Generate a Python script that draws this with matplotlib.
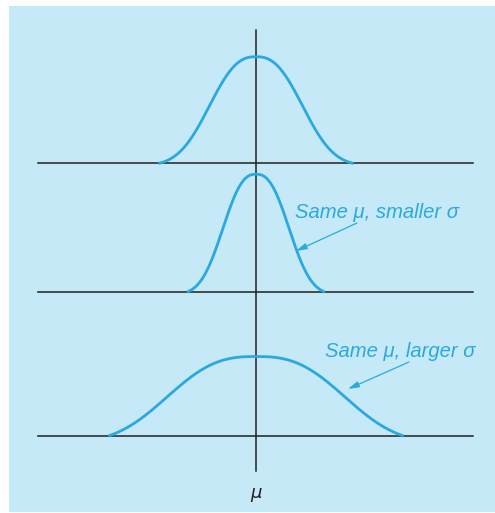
import numpy as np
import matplotlib
matplotlib.use("Agg")
import matplotlib.pyplot as plt
from matplotlib.patches import Rectangle

# ---- data (schematic bell curves; units = top curve scale) ----
curve_names = ["reference", "smaller sigma", "larger sigma"]
mu = [0.0, 0.0, 0.0]
sigma = [1.173, 0.835, 2.17]        # spread of each bell
half_width = [2.0, 1.42, 3.03]      # curve drawn over mu +/- half_width
peak_height = [2.19, 2.42, 1.63]    # drawn height of each curve
baseline = [5.59, 2.95, 0.0]        # vertical offset of each curve's axis
shape_beta = [2.5, 2.5, 2.7]        # flatness of the drawn bells
labels = ["", "Same \u03bc, smaller \u03c3", "Same \u03bc, larger \u03c3"]
mu_label = "\u03bc"

BG = "#C6E9F8"
CURVE = "#29A9E0"
DARK = "#231F20"

W, H = 495, 513
fig = plt.figure(figsize=(W / 100, H / 100), dpi=100)
fig.patch.set_facecolor("white")
ax = fig.add_axes([0, 0, 1, 1])
scale = 48.75  # pixels per unit
cx, base_px = 256, 436
ax.set_xlim(-cx / scale, (W - cx) / scale)
ax.set_ylim(-(H - base_px) / scale, base_px / scale)
ax.axis("off")

def py(p):
    return (base_px - p) / scale

def px(p):
    return (p - cx) / scale

# background panel
ax.add_patch(Rectangle((px(9), py(512)), (W - 9) / scale, (512 - 6) / scale,
                       facecolor=BG, edgecolor="none", zorder=0))

xl, xr = px(38), px(473)
for i in range(3):
    a, D, b = sigma[i], half_width[i], shape_beta[i]
    x = np.linspace(mu[i] - D, mu[i] + D, 500)
    g = np.exp(-np.abs((x - mu[i]) / a) ** b)
    g0 = np.exp(-(D / a) ** b)
    y = baseline[i] + peak_height[i] * (g - g0) / (1 - g0)
    ax.plot([xl, xr], [baseline[i], baseline[i]], color=DARK, lw=1.1, zorder=2)
    ax.plot(x, y, color=CURVE, lw=2.0, zorder=3, solid_capstyle="butt")

# vertical mu line
ax.plot([mu[0], mu[0]], [py(30), py(471)], color=DARK, lw=1.1, zorder=2)
ax.text(mu[0], py(493), mu_label, ha="center", va="center",
        fontsize=13, style="italic", color=DARK, family="DejaVu Sans")

# annotations
ann = [
    (1, (357, 223), (296, 251), (295, 218)),
    (2, (409, 362), (348, 389), (325, 357)),
]
for i, (ax0, ay0), (ax1, ay1), (tx, ty) in ann:
    ax.annotate("", xy=(px(ax1), py(ay1)), xytext=(px(ax0), py(ay0)),
                arrowprops=dict(arrowstyle="-|>,head_length=0.65,head_width=0.18",
                                color=CURVE, lw=0.9, shrinkA=0, shrinkB=0),
                zorder=4)
    ax.text(px(tx), py(ty), labels[i], ha="left", va="baseline",
            fontsize=14.6, style="italic", color=CURVE, family="Liberation Sans")

fig.savefig("out.png", dpi=100, facecolor="white")
